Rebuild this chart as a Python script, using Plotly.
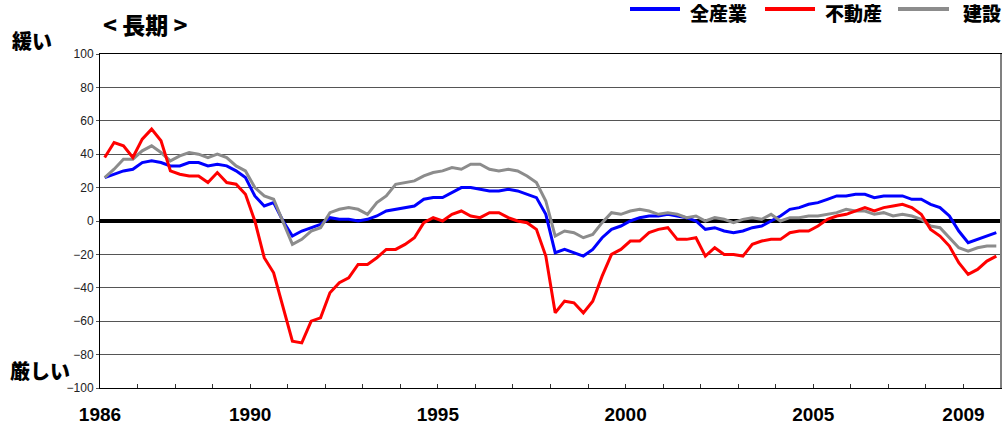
import plotly.graph_objects as go

# Quarterly series, 1986Q1 - 2009Q4
start_year = 1986
n_quarters = 96

all_industries = [26, 28, 30, 31, 35, 36, 35, 33, 33, 35, 35, 33, 34, 33, 30, 26,
                  15, 9, 11, 0, -9, -6, -4, -2, 2, 1, 1, 0, 1, 3, 6, 7,
                  8, 9, 13, 14, 14, 17, 20, 20, 19, 18, 18, 19, 18, 16, 14, 4,
                  -19, -17, -19, -21, -17, -10, -5, -3, 0, 2, 3, 3, 4, 3, 2, 0,
                  -5, -4, -6, -7, -6, -4, -3, 0, 3, 7, 8, 10, 11, 13, 15, 15,
                  16, 16, 14, 15, 15, 15, 13, 13, 10, 8, 3, -6, -13, -11, -9, -7]

real_estate = [38, 47, 45, 38, 49, 55, 48, 30, 28, 27, 27, 23, 29, 23, 22, 16,
               0, -22, -31, -52, -72, -73, -60, -58, -43, -37, -34, -26, -26, -22, -17, -17,
               -14, -10, -1, 2, 0, 4, 6, 3, 2, 5, 5, 2, 0, -1, -5, -21,
               -55, -48, -49, -55, -48, -33, -20, -17, -12, -12, -7, -5, -4, -11, -11, -10,
               -21, -16, -20, -20, -21, -14, -12, -11, -11, -7, -6, -6, -3, 1, 3, 4,
               6, 8, 6, 8, 9, 10, 8, 4, -5, -9, -15, -25, -32, -29, -24, -21]

construction = [26, 31, 37, 37, 42, 45, 41, 36, 39, 41, 40, 38, 40, 38, 33, 30,
                20, 15, 13, 0, -14, -11, -6, -4, 5, 7, 8, 7, 4, 11, 15, 22,
                23, 24, 27, 29, 30, 32, 31, 34, 34, 31, 30, 31, 30, 27, 23, 12,
                -9, -6, -7, -10, -8, -1, 5, 4, 6, 7, 6, 4, 5, 4, 2, 3,
                0, 2, 1, -1, 1, 2, 1, 4, 0, 2, 2, 3, 3, 4, 5, 7,
                6, 6, 4, 5, 3, 4, 3, 1, -3, -4, -10, -16, -18, -16, -15, -15]

series_names = ["全産業", "不動産", "建設"]
series_colors = ["#0000FF", "#FF0000", "#8C8C8C"]
series_values = [all_industries, real_estate, construction]

tick_years = list(range(1986, 2011))
labelled_years = [1986, 1990, 1995, 2000, 2005, 2009]

# each quarter sits in the middle of its slot on a continuous year axis
x_vals = [start_year + (i + 0.5) / 4 for i in range(n_quarters)]

W, H = 1006, 428
L, R, T, B = 100, 5, 54, 40
PW, PH = W - L - R, H - T - B


def px(xp):
    return (xp - L) / PW


def py(yp):
    return (H - B - yp) / PH


fig = go.Figure()
draw_order = [0, 2, 1]
for k in draw_order:
    fig.add_trace(go.Scatter(
        x=x_vals, y=series_values[k], mode="lines", name=series_names[k],
        line=dict(color=series_colors[k], width=3), showlegend=False,
    ))

fig.update_layout(
    width=W, height=H,
    margin=dict(l=L, r=R, t=T, b=B, autoexpand=False),
    paper_bgcolor="white", plot_bgcolor="white",
    font=dict(family="Liberation Sans, Arial, Noto Sans CJK JP", color="black"),
)

fig.update_xaxes(
    range=[start_year, start_year + n_quarters / 4],
    tickmode="array",
    tickvals=tick_years,
    ticktext=[str(y) if y in labelled_years else "" for y in tick_years],
    ticks="inside", ticklen=4, tickcolor="#333",
    tickfont=dict(size=19, family="Liberation Sans, Arial", weight="bold"),
    ticklabelstandoff=9, automargin=False,
    showgrid=False, zeroline=False,
    showline=True, linecolor="black", linewidth=1, mirror=True,
)

fig.update_yaxes(
    range=[-100, 100], dtick=20,
    tickfont=dict(size=12, family="Liberation Sans, Arial", color="#222"),
    ticks="outside", ticklen=3, tickcolor="#555", automargin=False,
    showgrid=True, gridcolor="#555", gridwidth=1,
    zeroline=True, zerolinecolor="black", zerolinewidth=4,
    showline=True, linecolor="black", linewidth=1, mirror=True,
)

# right frame edge is drawn in gray
fig.add_shape(type="line", xref="paper", yref="paper", x0=1, x1=1, y0=0, y1=1,
              line=dict(color="#808080", width=2))

cjk = "Noto Sans CJK JP"
fig.add_annotation(text="< 長期 >", xref="paper", yref="paper", x=px(101), y=py(24),
                   xanchor="left", yanchor="middle", showarrow=False,
                   font=dict(size=23, family=cjk, weight=900))
fig.add_annotation(text="緩い", xref="paper", yref="paper", x=px(32), y=py(41),
                   xanchor="center", yanchor="middle", showarrow=False,
                   font=dict(size=20, family=cjk, weight=900))
fig.add_annotation(text="厳しい", xref="paper", yref="paper", x=px(40), y=py(370),
                   xanchor="center", yanchor="middle", showarrow=False,
                   font=dict(size=20, family=cjk, weight=900))

# legend drawn along the top right
legend_line_x = [(630, 680), (765, 815), (898, 949)]
legend_text_x = [689, 824, 962]
for k in range(3):
    x0, x1 = legend_line_x[k]
    fig.add_shape(type="line", xref="paper", yref="paper",
                  x0=px(x0), x1=px(x1), y0=py(9), y1=py(9),
                  line=dict(color=series_colors[k], width=4))
    fig.add_annotation(text=series_names[k], xref="paper", yref="paper",
                       x=px(legend_text_x[k]), y=py(13), xanchor="left", yanchor="middle",
                       borderpad=0, showarrow=False,
                       font=dict(size=19, family=cjk, weight=900))

fig.write_html("out.html")
